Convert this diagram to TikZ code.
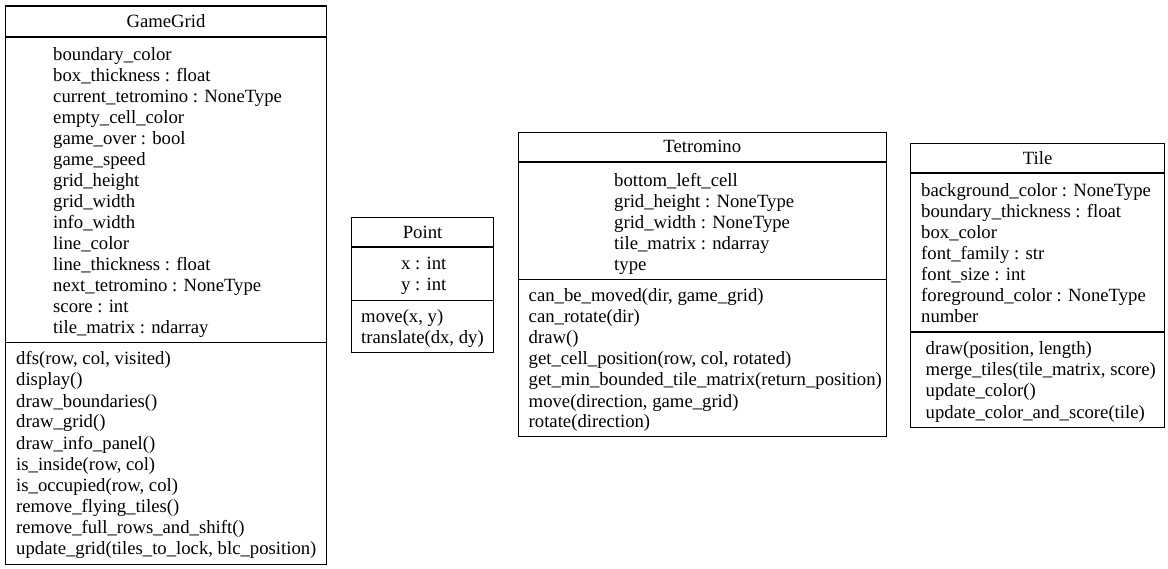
\documentclass[tikz,border=0pt]{standalone}
\usepackage{fontspec}
\setmainfont{Liberation Serif}
\begin{document}
\begin{tikzpicture}[x=1pt,y=-1pt,
  umlbox/.style={draw=black, line width=1.1pt, inner sep=0pt, anchor=north west},
  ln/.style={anchor=base west, inner sep=0pt, font=\fontsize{18.7}{21}\selectfont},
  ttl/.style={anchor=base, inner sep=0pt, font=\fontsize{18.7}{21}\selectfont},
  sepline/.style={draw=black, line width=1.1pt}]
\useasboundingbox (0,0) rectangle (1168,569);

% ---------------- GameGrid ----------------
\node[umlbox, minimum width=321pt, minimum height=558.5pt] (gg) at (5,5.5) {};
\node[ttl] (ggt) at (gg.north |- 0,28) {GameGrid};
\coordinate (gg1) at (0,37);
\coordinate (gg2) at (0,342.7);
\draw[sepline] (gg.west |- gg1) -- (gg.east |- gg1);
\draw[sepline] (gg.west |- gg2) -- (gg.east |- gg2);
\foreach \t [count=\i from 0] in {boundary\_color, box\_thickness : float,
  current\_tetromino : NoneType, empty\_cell\_color, game\_over : bool,
  game\_speed, grid\_height, grid\_width, info\_width, line\_color,
  line\_thickness : float, next\_tetromino : NoneType, score : int,
  tile\_matrix : ndarray}
  \node[ln] (gga\i) at (53,61+21*\i) {\t};
\foreach \t [count=\i from 0] in {{dfs(row, col, visited)}, display(),
  draw\_boundaries(), draw\_grid(), draw\_info\_panel(), {is\_inside(row, col)},
  {is\_occupied(row, col)}, remove\_flying\_tiles(), remove\_full\_rows\_and\_shift(),
  {update\_grid(tiles\_to\_lock, blc\_position)}}
  \node[ln] (ggm\i) at (16,365+21*\i) {\t};

% ---------------- Point ----------------
\node[umlbox, minimum width=142pt, minimum height=135pt] (pt) at (351,216.7) {};
\node[ttl] (ptt) at (pt.north |- 0,238.5) {Point};
\coordinate (pt1) at (0,247);
\coordinate (pt2) at (0,300.7);
\draw[sepline] (pt.west |- pt1) -- (pt.east |- pt1);
\draw[sepline] (pt.west |- pt2) -- (pt.east |- pt2);
\node[ln] (pta0) at (401,270) {x : int};
\node[ln] (pta1) at (401,291) {y : int};
\node[ln] (ptm0) at (361,322.5) {move(x, y)};
\node[ln] (ptm1) at (361,343.5) {translate(dx, dy)};

% ---------------- Tetromino ----------------
\node[umlbox, minimum width=368.5pt, minimum height=304.3pt] (te) at (517.5,131.7) {};
\node[ttl] (tet) at (te.north |- 0,153) {Tetromino};
\coordinate (te1) at (0,162);
\coordinate (te2) at (0,279.5);
\draw[sepline] (te.west |- te1) -- (te.east |- te1);
\draw[sepline] (te.west |- te2) -- (te.east |- te2);
\foreach \t [count=\i from 0] in {bottom\_left\_cell, grid\_height : NoneType,
  grid\_width : NoneType, tile\_matrix : ndarray, type}
  \node[ln] (tea\i) at (614,186.5+21*\i) {\t};
\foreach \t [count=\i from 0] in {{can\_be\_moved(dir, game\_grid)}, can\_rotate(dir),
  draw(), {get\_cell\_position(row, col, rotated)},
  get\_min\_bounded\_tile\_matrix(return\_position),
  {move(direction, game\_grid)}, rotate(direction)}
  \node[ln] (tem\i) at (528.5,302+21*\i) {\t};

% ---------------- Tile ----------------
\node[umlbox, minimum width=254pt, minimum height=284pt] (ti) at (910,143) {};
\node[ttl] (tit) at (ti.north |- 0,164.5) {Tile};
\coordinate (ti1) at (0,173);
\coordinate (ti2) at (0,332);
\draw[sepline] (ti.west |- ti1) -- (ti.east |- ti1);
\draw[sepline] (ti.west |- ti2) -- (ti.east |- ti2);
\foreach \t [count=\i from 0] in {background\_color : NoneType,
  boundary\_thickness : float, box\_color, font\_family : str, font\_size : int,
  foreground\_color : NoneType, number}
  \node[ln] (tia\i) at (921,197+21*\i) {\t};
\foreach \t [count=\i from 0] in {{draw(position, length)},
  {merge\_tiles(tile\_matrix, score)}, update\_color(),
  update\_color\_and\_score(tile)}
  \node[ln] (tim\i) at (925.5,355+21*\i) {\t};
\end{tikzpicture}
\end{document}
